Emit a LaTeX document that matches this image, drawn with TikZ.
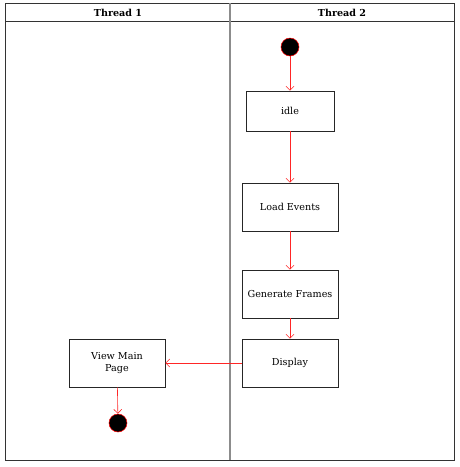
\documentclass[tikz,border=0pt]{standalone}
\usepackage{fontspec}
\setmainfont{DejaVu Serif}
\usetikzlibrary{arrows.meta}
\usetikzlibrary{positioning}

\tikzset{
  lane/.style={draw=black!80, line width=0.8pt},
  actbox/.style={draw=black!85, line width=0.7pt, minimum width=96pt, minimum height=48pt, align=center, inner sep=1pt, font=\fontsize{9.6}{11.5}\selectfont},
  endpoint/.style={circle, draw=red, fill=black, line width=0.5pt, minimum size=18pt, inner sep=0pt},
  flow/.style={draw=red!85, line width=0.6pt, -{Straight Barb[length=4pt,width=8pt]}},
  hdr/.style={font=\fontsize{9.6}{11.5}\selectfont\bfseries}
}

\begin{document}
\begin{tikzpicture}[x=1pt, y=-1pt]
 \useasboundingbox (0,0) rectangle (459,467);

 %lanes
 \draw[lane] (5,3) rectangle (454,460);
 \draw[lane] (5,21) -- (454,21);
 \draw[draw=black!45, line width=1.4pt] (230,3) -- (230,460);
 \node[hdr] (h1) at (118,13) {Thread 1};
 \node[hdr] (h2) at (342,13) {Thread 2};

 %thread 2
 \node[endpoint] (start) at (290,47) {};
 \node[actbox, minimum width=88pt, minimum height=40pt] (idle) at (290,111) {idle};
 \foreach \y/\name/\txt in {207/load/Load Events, 294/gen/Generate Frames, 363/disp/Display} {
   \node[actbox] (\name) at (290,\y) {\txt};
 }

 %thread 1
 \node[actbox] (view) at (117,363) {View Main\\Page};
 \node[endpoint] (stop) at (118,423) {};

 \draw[flow] (start) -- (idle);
 \draw[flow] (idle) -- (load);
 \draw[flow] (load) -- (gen);
 \draw[flow] (gen) -- (disp);
 \draw[flow] (disp) -- (view);
 \draw[flow] (view) -- (stop);
\end{tikzpicture}
\end{document}
